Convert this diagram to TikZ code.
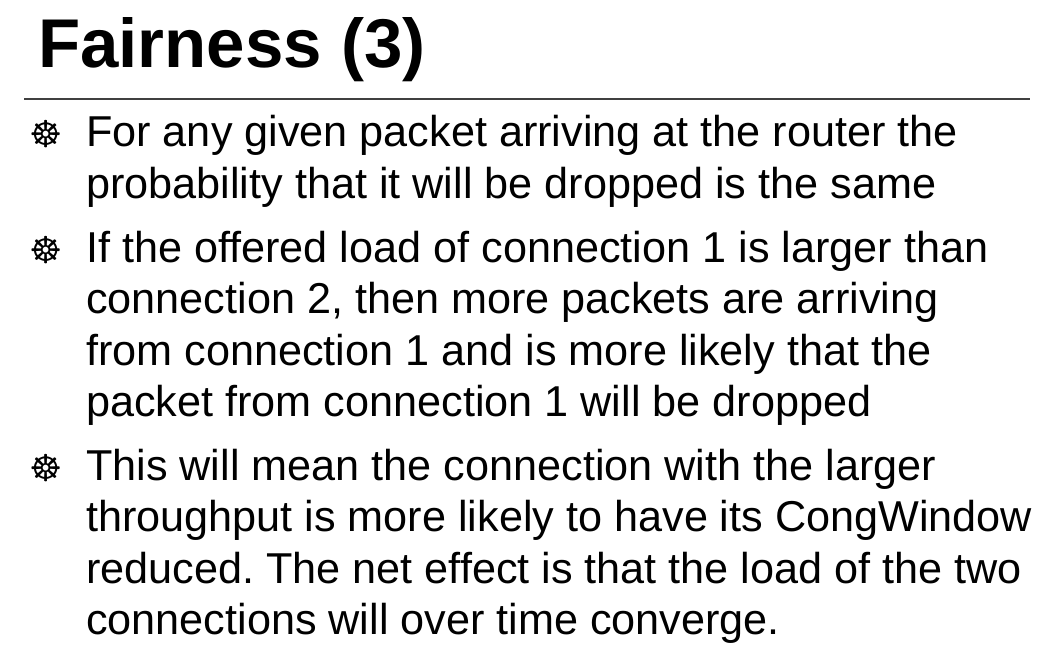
\documentclass[tikz,border=0pt]{standalone}
\usepackage{fontspec}
\setmainfont{Liberation Sans}
\newfontfamily\symbolfont{DejaVu Sans}
\frenchspacing

\begin{document}
\begin{tikzpicture}[x=1pt, y=1pt,
  bodytext/.style={anchor=base west, inner sep=0pt, align=left,
    font=\fontsize{43.2}{51.5}\selectfont},
  bulletmark/.style={anchor=base west, inner sep=0pt,
    font=\symbolfont\fontsize{37}{37}\selectfont}]
\useasboundingbox (0,0) rectangle (1048,649);
% title and rule
\node (title) at (38,581) [anchor=base west, inner sep=0pt, font=\fontsize{69}{69}\selectfont\bfseries] {Fairness (3)};
\coordinate (ruleL) at (24,550);
\coordinate (ruleR) at (1030,550);
\draw [line width=1.3pt, black!75] (ruleL) -- (ruleR);

% bullets (text nodes sit on the baseline of their last line)
\node (b1) at (29,501) [bulletmark] {☸};
\node (t1) at (86,450.5) [bodytext] {For any given packet arriving at the router the\\probability that it will be dropped is the same};
\node (b2) at (29,386) [bulletmark] {☸};
\node (t2) at (86,232.5) [bodytext] {If the offered load of connection 1 is larger than\\connection 2, then more packets are arriving\\from connection 1 and is more likely that the\\packet from connection 1 will be dropped};
\node (b3) at (29,168) [bulletmark] {☸};
\node (t3) at (86,14.5) [bodytext] {This will mean the connection with the larger\\throughput is more likely to have its CongWindow\\reduced. The net effect is that the load of the two\\connections will over time converge.};
\end{tikzpicture}
\end{document}
